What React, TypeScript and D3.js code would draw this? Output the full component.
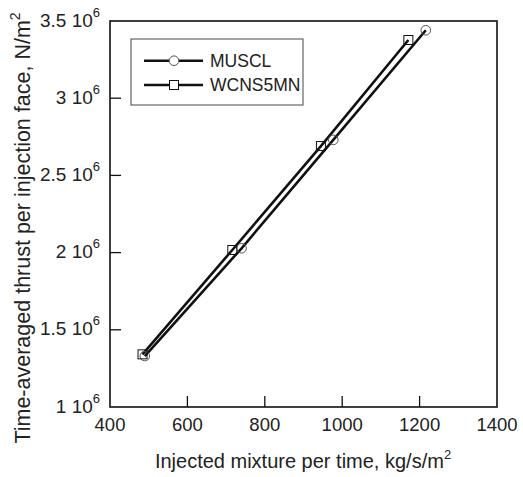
import React from "react";
import * as d3 from "d3";

const musclX = [490, 740, 977, 1216];
const musclY = [1.33e6, 2.028e6, 2.73e6, 3.44e6];
const wcnsX = [484, 716, 945, 1171];
const wcnsY = [1.341e6, 2.017e6, 2.69e6, 3.377e6];
const xTicks = [400, 600, 800, 1000, 1200, 1400];
const yTicks = [1e6, 1.5e6, 2e6, 2.5e6, 3e6, 3.5e6];
const yTickMantissa = ["1", "1.5", "2", "2.5", "3", "3.5"];
const seriesNames = ["MUSCL", "WCNS5MN"];

const W = 523, H = 477;
const L = 110, R = 497, T = 21, B = 407;
const FONT = "'Liberation Sans', Arial, sans-serif";

export default function App() {
  const x = d3.scaleLinear().domain([400, 1400]).range([L, R]);
  const y = d3.scaleLinear().domain([1e6, 3.5e6]).range([B, T]);
  const line = d3.line<[number, number]>().x(d => x(d[0])).y(d => y(d[1]));
  const m: [number, number][] = musclX.map((v, i) => [v, musclY[i]]);
  const w: [number, number][] = wcnsX.map((v, i) => [v, wcnsY[i]]);
  const tickLen = 11;
  return (
    <svg width={W} height={H} style={{ position: "absolute", left: 0, top: 0, background: "#fff" }} fontFamily={FONT}>
      <rect x={0} y={0} width={W} height={H} fill="#fff" />
      <rect x={L} y={T} width={R - L} height={B - T} fill="none" stroke="#111" strokeWidth={1.6} />
      {xTicks.map(t => (
        <g key={"x" + t}>
          {t !== 400 && t !== 1400 && <line x1={x(t)} x2={x(t)} y1={B} y2={B - tickLen} stroke="#111" strokeWidth={1.3} />}
          <text x={x(t)} y={B + 24} textAnchor="middle" fontSize={18.5} fill="#222">{t}</text>
        </g>
      ))}
      {yTicks.map((t, i) => (
        <text key={"y" + t} x={L - 10} y={y(t) + 5.5} textAnchor="end" fontSize={19} fill="#222">
          {yTickMantissa[i] + " 10"}
          <tspan fontSize={13} dy={-10}>6</tspan>
        </text>
      ))}
      {yTicks.map((t, i) => (
        i !== 0 && i !== yTicks.length - 1 ? <line key={"yt" + t} x1={L} x2={L + tickLen} y1={y(t)} y2={y(t)} stroke="#111" strokeWidth={1.3} /> : null
      ))}
      <path d={line(w) || ""} fill="none" stroke="#111" strokeWidth={2.6} />
      <path d={line(m) || ""} fill="none" stroke="#111" strokeWidth={2.6} />
      {m.map((d, i) => (
        <circle key={"c" + i} cx={x(d[0])} cy={y(d[1])} r={4.8} fill="none" stroke="#555" strokeWidth={1} />
      ))}
      {w.map((d, i) => (
        <rect key={"s" + i} x={x(d[0]) - 4.5} y={y(d[1]) - 4.5} width={9} height={9} fill="none" stroke="#111" strokeWidth={1} />
      ))}
      {/* legend */}
      <rect x={131} y={39} width={172} height={66} fill="#fff" stroke="#444" strokeWidth={1} />
      <line x1={144} x2={203} y1={60.7} y2={60.7} stroke="#111" strokeWidth={2.6} />
      <circle cx={174} cy={60.7} r={4.8} fill="#fff" stroke="#555" strokeWidth={1} />
      <text x={210} y={67} fontSize={17.5} fill="#222">{seriesNames[0]}</text>
      <line x1={144} x2={203} y1={85} y2={85} stroke="#111" strokeWidth={2.6} />
      <rect x={169.5} y={80.5} width={9} height={9} fill="#fff" stroke="#111" strokeWidth={1} />
      <text x={210} y={91.3} fontSize={17.5} fill="#222">{seriesNames[1]}</text>
      {/* axis titles */}
      <text x={303} y={468} textAnchor="middle" fontSize={20} fill="#222">
        Injected mixture per time, kg/s/m<tspan fontSize={13} dy={-9}>2</tspan>
      </text>
      <text transform={`translate(30,228) rotate(-90)`} textAnchor="middle" fontSize={21.5} fill="#222">
        Time-averaged thrust per injection face, N/m<tspan fontSize={14} dy={-10}>2</tspan>
      </text>
    </svg>
  );
}
